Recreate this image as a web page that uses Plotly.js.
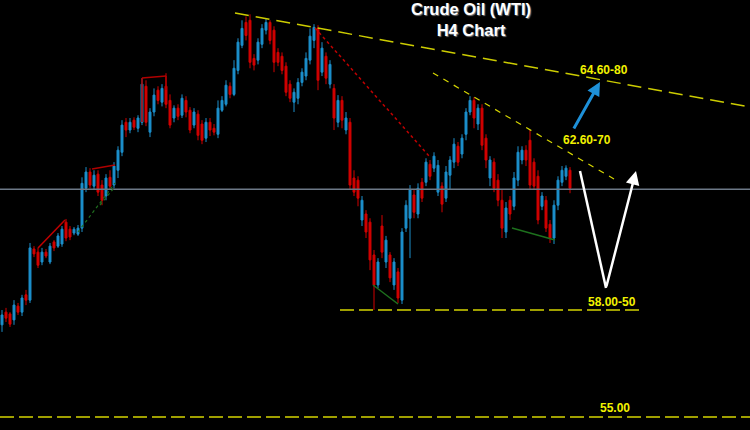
<!DOCTYPE html>
<html>
<head>
<meta charset="utf-8">
<script src="https://cdn.plot.ly/plotly-3.0.1.min.js"></script>
<style>
  html, body { margin: 0; padding: 0; background: #000; }
  #chart { width: 750px; height: 430px; }
</style>
</head>
<body>
<div id="chart"></div>
<script>
// H4 candles (USD / bbl)
const openP = [57.58,57.94,57.89,57.72,58.11,57.94,58.43,58.28,59.73,59.64,59.36,59.64,59.36,59.93,59.81,59.87,60.49,60.29,60.18,60.15,
  60.32,61.45,61.91,61.51,61.85,61.54,61.23,61.76,61.54,61.96,62.47,63.32,63.10,63.38,63.15,63.32,64.34,63.04,63.61,64.23,
  63.89,64.34,63.94,63.44,63.72,63.52,63.94,63.66,63.24,63.55,63.27,62.87,63.32,63.15,62.98,63.66,63.83,64.34,64.11,64.79,
  65.50,66.15,66.21,65.13,65.08,65.53,65.93,66.15,65.93,65.30,65.19,64.91,64.40,63.89,64.00,64.45,64.63,65.08,65.64,65.98,
  64.74,65.19,64.40,64.28,63.32,63.94,63.10,63.32,61.74,61.68,60.55,60.72,60.49,59.56,58.71,60.38,59.36,59.56,58.71,59.08,
  58.28,60.32,60.60,61.26,60.72,61.62,61.62,62.13,62.02,61.34,61.51,61.17,61.82,62.19,62.64,62.42,62.98,63.61,63.94,63.27,
  63.72,62.87,61.74,62.19,61.68,61.11,60.21,61.11,60.94,61.68,62.25,62.53,62.81,62.19,61.79,60.94,61.11,60.43,60.04,60.97,
  61.62,61.79,61.96];
const highP = [58.00,58.06,57.94,58.28,58.20,58.43,58.57,59.90,59.81,59.76,59.76,59.73,59.90,59.98,60.18,60.38,60.58,60.38,60.35,60.41,
  61.76,62.05,62.02,61.96,61.96,61.68,61.85,61.96,62.19,62.64,63.38,63.44,63.44,63.46,63.52,64.57,64.51,63.72,64.28,64.34,
  64.40,64.71,64.11,63.80,63.83,64.11,64.06,63.75,63.72,63.66,63.38,63.44,63.44,63.27,63.94,64.06,64.51,64.45,65.08,65.70,
  66.21,66.32,66.38,65.25,65.70,66.10,66.27,66.21,66.04,65.42,65.30,65.02,64.51,64.28,64.57,64.85,65.30,65.98,66.10,66.07,
  65.59,65.30,65.08,64.40,64.09,64.06,63.61,63.44,61.96,61.79,61.23,60.83,60.60,59.70,59.47,60.69,60.10,59.64,59.47,59.19,
  60.32,61.11,61.54,61.40,61.59,61.74,62.30,62.25,62.47,62.25,61.62,62.08,62.36,62.87,62.76,62.98,63.72,64.06,64.03,63.83,
  63.83,62.98,62.36,62.30,61.85,61.40,61.06,61.23,61.91,62.64,62.64,62.67,63.10,62.30,61.96,61.34,61.23,60.55,61.11,61.79,
  62.08,62.10,62.05];
const lowP = [57.38,57.66,57.52,57.58,57.86,57.83,58.14,58.20,59.50,59.19,59.27,59.47,59.30,59.67,59.76,59.79,59.95,59.98,60.12,60.10,
  60.21,61.34,61.45,61.40,61.23,60.97,61.11,61.40,61.45,61.74,62.36,62.90,63.01,63.10,63.04,63.24,63.21,62.90,63.49,63.83,
  63.77,63.72,63.15,63.32,63.38,63.44,63.46,63.01,63.15,62.81,62.70,62.76,62.93,62.95,62.87,63.61,63.77,64.00,64.06,64.68,
  65.42,65.64,64.85,64.79,64.96,65.42,65.81,65.53,64.74,64.91,64.68,64.06,63.89,63.61,63.83,64.34,64.51,64.96,65.42,64.23,
  64.63,64.40,64.28,63.10,63.18,63.15,62.98,61.40,61.23,60.94,60.38,60.04,59.13,58.00,58.62,59.47,59.19,58.79,58.57,58.20,
  58.17,60.21,59.47,60.60,60.60,61.06,61.51,61.68,61.91,61.23,60.77,61.06,61.40,62.02,62.08,62.30,62.81,63.52,63.15,63.10,
  62.53,62.02,61.51,61.34,60.94,60.04,60.04,60.55,60.83,61.51,62.13,62.08,61.40,61.40,60.43,60.83,60.21,59.90,59.87,60.83,
  61.51,61.68,61.31];
const closeP = [57.86,57.77,57.60,58.14,57.94,58.34,58.28,59.76,59.59,59.27,59.64,59.53,59.81,59.76,60.10,60.29,60.04,60.07,60.29,60.32,
  61.59,61.91,61.54,61.82,61.34,61.11,61.74,61.51,62.08,62.53,63.24,63.10,63.32,63.18,63.44,64.40,63.32,63.61,64.09,63.94,
  64.28,63.83,63.24,63.72,63.49,64.00,63.61,63.10,63.61,62.95,62.81,63.32,63.10,63.04,63.72,63.94,64.37,64.11,64.85,65.59,
  65.98,65.78,65.02,64.94,65.59,65.98,66.15,65.64,65.02,65.02,64.79,64.17,64.00,64.17,64.45,64.74,65.13,65.76,66.01,64.51,
  65.42,64.57,64.96,63.44,63.94,63.38,63.44,61.54,61.34,61.17,61.11,60.21,59.42,58.71,59.36,59.64,59.98,58.91,59.36,58.34,
  60.21,60.97,61.40,60.77,61.45,61.17,62.19,61.79,62.36,62.10,61.00,61.91,62.25,62.70,62.19,62.87,63.61,63.94,63.44,63.72,
  62.67,62.25,62.25,61.45,61.11,60.32,60.89,60.72,61.74,62.47,62.53,62.25,61.54,61.51,60.55,61.23,60.32,60.04,60.97,61.68,
  61.96,62.02,61.45];
const barIndex = openP.map((_, i) => i);

// price levels and labels
const levelCurrent = 61.42;
const level58 = 58.00;
const level55 = 55.00;
const titleLines = ["Crude Oil (WTI)", "H4 Chart"];
const labelTarget2 = "64.60-80";
const labelTarget1 = "62.60-70";
const labelSupport1 = "58.00-50";
const labelSupport2 = "55.00";

// pixel -> paper helpers for drawn annotations
const W = 750, H = 430;
const px = x => x / W;
const py = y => 1 - y / H;

const candles = {
  type: 'candlestick',
  x: barIndex, open: openP, high: highP, low: lowP, close: closeP,
  increasing: { line: { color: '#1c8fcb', width: 1 }, fillcolor: '#1c8fcb' },
  decreasing: { line: { color: '#d10000', width: 1 }, fillcolor: '#d10000' },
  whiskerwidth: 0,
  hoverinfo: 'skip',
  showlegend: false
};

const seg = (x0, y0, x1, y1, color, width, dash, layer) => ({
  type: 'line', xref: 'paper', yref: 'paper',
  x0: px(x0), y0: py(y0), x1: px(x1), y1: py(y1),
  line: { color: color, width: width, dash: dash || 'solid' },
  layer: layer || 'above'
});

const shapes = [
  // current price line
  { type: 'line', xref: 'paper', yref: 'y', x0: 0, x1: 1, y0: levelCurrent, y1: levelCurrent,
    line: { color: '#6d7987', width: 1.5 }, layer: 'above' },
  // support levels
  { type: 'line', xref: 'paper', yref: 'y', x0: px(340), x1: px(640), y0: level58, y1: level58,
    line: { color: '#d4d400', width: 1.5, dash: '14px,5px' } },
  { type: 'line', xref: 'paper', yref: 'y', x0: 0, x1: 1, y0: level55 - 0.03, y1: level55 - 0.03,
    line: { color: '#d4d400', width: 1.5, dash: '14px,5px' } },
  // trend lines
  seg(235, 13, 750, 107, '#cccc00', 1.5, '14px,7px'),
  seg(433, 73, 614, 179, '#d6d600', 1.2, '6px,6px'),
  seg(315, 28, 430, 157, '#c00000', 1.5, 'dot'),
  // small red structures
  seg(38, 248, 65, 220, '#c00000', 1.5),
  seg(92, 169, 115, 165, '#b00000', 1.5),
  seg(142, 122, 142, 78, '#b00000', 1.5),
  seg(142, 78, 166, 76, '#b00000', 1.5),
  seg(166, 76, 166, 90, '#b00000', 1.5),
  // green structures
  seg(78, 232, 115, 183, '#1f6f1f', 1.2, '3px,3px'),
  seg(100, 205, 114, 188, '#1f6f1f', 1.2, '3px,3px'),
  seg(373, 285, 398, 304, '#1d701d', 1.5),
  seg(512, 228, 555, 240, '#1d701d', 1.5),
  // white V path (left leg)
  seg(580, 171, 606, 288, '#ffffff', 2.5)
];

const lbl = (text, x, y) => ({
  text: '<b>' + text + '</b>', xref: 'paper', yref: 'paper', x: px(x), y: py(y),
  showarrow: false, xanchor: 'center', yanchor: 'middle',
  font: { family: 'Liberation Sans, Arial, sans-serif', size: 12, color: '#f2f200' }
});

const annotations = [
  { text: '<b>' + titleLines.join('<br>') + '</b>', xref: 'paper', yref: 'paper',
    x: px(471), y: py(20), xanchor: 'center', yanchor: 'middle', showarrow: false, align: 'center',
    font: { family: 'Liberation Sans, Arial, sans-serif', size: 16.5, color: '#ffffff', shadow: '1px 1px 1px #777' } },
  lbl(labelTarget2, 604, 70),
  lbl(labelTarget1, 587, 140),
  lbl(labelSupport1, 612, 302),
  lbl(labelSupport2, 615, 408),
  // blue target arrow
  { xref: 'paper', yref: 'paper', x: px(600), y: py(82), ax: -27, ay: 48, axref: 'pixel', ayref: 'pixel',
    text: '', showarrow: true, arrowhead: 2, arrowsize: 0.9, arrowwidth: 3, arrowcolor: '#1e90d8' },
  // white V right leg
  { xref: 'paper', yref: 'paper', x: px(636), y: py(171), ax: -30, ay: 117, axref: 'pixel', ayref: 'pixel',
    text: '', showarrow: true, arrowhead: 2, arrowsize: 1.1, arrowwidth: 2.5, arrowcolor: '#ffffff' }
];

const layout = {
  width: W, height: H,
  paper_bgcolor: '#000000', plot_bgcolor: '#000000',
  margin: { l: 0, r: 0, t: 0, b: 0 },
  xaxis: { range: [-0.5, 187], visible: false, rangeslider: { visible: false }, fixedrange: true },
  yaxis: { range: [54.60, 66.785], visible: false, fixedrange: true },
  shapes: shapes,
  annotations: annotations,
  showlegend: false
};

Plotly.newPlot('chart', [candles], layout, { staticPlot: true, displayModeBar: false });
</script>
</body>
</html>
